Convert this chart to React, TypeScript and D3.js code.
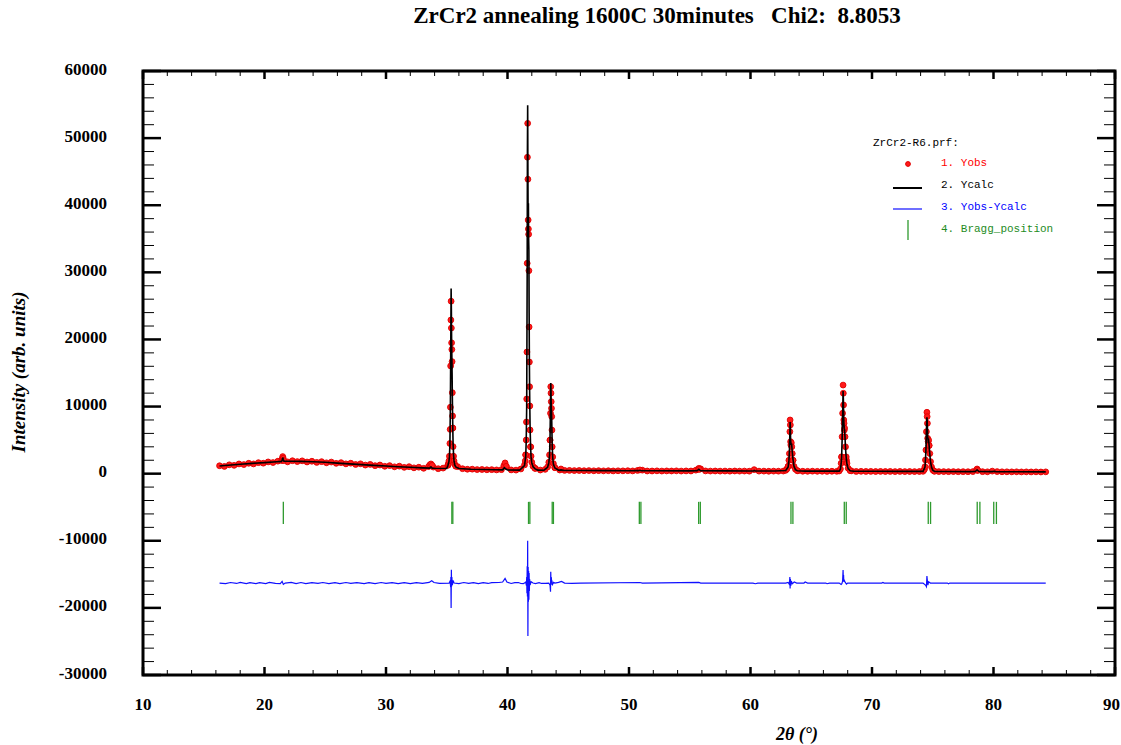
import React from 'react';
import * as d3 from 'd3';

const W = 1121;
const H = 745;

const chartTitle = 'ZrCr2 annealing 1600C 30minutes   Chi2:  8.8053';
const xTickValues = [10, 20, 30, 40, 50, 60, 70, 80, 90];
const yTickValues = [-30000, -20000, -10000, 0, 10000, 20000, 30000, 40000, 50000, 60000];
const legendHeader = 'ZrCr2-R6.prf:';
const legendLabels = ['1. Yobs', '2. Ycalc', '3. Yobs-Ycalc', '4. Bragg_position'];

// Observed scan (FullProf style: start, step, counts)
const obsScanStart = 16.3;
const obsScanStep = 0.4;
const obsScanCounts = [
  1180, 1080, 1320, 1240, 1450, 1360, 1550, 1450, 1640, 1560,
  1750, 1660, 1860, 2300, 1760, 1930, 1800, 1910, 1740, 1850,
  1680, 1790, 1620, 1730, 1540, 1640, 1460, 1560, 1370, 1470,
  1280, 1380, 1190, 1290, 1100, 1200, 1020, 1120, 940, 1040,
  870, 960, 800, 1050, 980, 740, 830, 1250, 6800, 1050,
  740, 660, 670, 610, 620, 580, 600, 560, 600, 1100,
  560, 530, 700, 2800, 4000, 780, 540, 640, 5000, 900,
  540, 490, 490, 460, 470, 440, 460, 430, 450, 420,
  440, 410, 430, 420, 440, 410, 480, 520, 400, 400,
  420, 390, 410, 400, 420, 390, 410, 400, 520, 720,
  410, 390, 400, 380, 390, 370, 400, 380, 390, 370,
  600, 380, 380, 360, 380, 370, 390, 1100, 2000, 420,
  360, 350, 370, 350, 360, 340, 360, 350, 2500, 2000,
  420, 330, 350, 330, 340, 320, 340, 320, 330, 310,
  330, 310, 320, 310, 320, 600, 4200, 400, 310, 310,
  300, 310, 290, 300, 290, 310, 500, 300, 280, 380,
  310, 280, 280, 270, 280, 260, 270, 260, 270, 250,
  270,
];

// Observed points read around the reflections
const obsPeakPoints: [number, number][] = [
  [21.42, 1950], [21.46, 2200], [21.5, 2550], [21.54, 2300], [21.58, 1950],
  [33.6, 1300], [33.7, 1450], [33.8, 1250],
  [35.1, 1300], [35.14, 1500], [35.18, 1900], [35.22, 2600], [35.26, 4500], [35.28, 6600],
  [35.3, 9900], [35.32, 16050], [35.34, 22900], [35.36, 25700], [35.38, 21700], [35.4, 19500],
  [35.42, 18500], [35.44, 16700], [35.46, 12070], [35.48, 8600], [35.5, 6800], [35.52, 4030],
  [35.56, 2600], [35.6, 1900], [35.66, 1400], [35.74, 1100],
  [39.7, 1200], [39.8, 1600], [39.9, 1100],
  [41.4, 1300], [41.46, 1900], [41.5, 2800], [41.54, 5020], [41.56, 7700], [41.58, 11130],
  [41.6, 18130], [41.62, 31350], [41.64, 47150], [41.66, 52200], [41.68, 43870], [41.7, 37800],
  [41.72, 36460], [41.74, 35670], [41.76, 30250], [41.78, 21860], [41.8, 16640], [41.82, 12960],
  [41.84, 10090], [41.86, 6510], [41.9, 4000], [41.94, 2600], [42.0, 1700], [42.1, 1100], [42.25, 800],
  [43.3, 1000], [43.4, 1700], [43.46, 2800], [43.5, 5000], [43.54, 9000], [43.56, 12960],
  [43.58, 12000], [43.6, 10730], [43.62, 9740], [43.64, 8500], [43.66, 6500], [43.68, 4000],
  [43.72, 2500], [43.78, 1500], [43.9, 900],
  [44.4, 700],
  [50.9, 560],
  [55.7, 650], [55.75, 800], [55.8, 650],
  [62.9, 500], [63.0, 700], [63.1, 1100], [63.16, 2000], [63.2, 3000], [63.24, 6260], [63.26, 8000],
  [63.28, 7260], [63.3, 4770], [63.32, 4280], [63.36, 4600], [63.4, 4000], [63.44, 3000],
  [63.5, 2000], [63.58, 1100], [63.7, 650], [63.85, 450],
  [67.3, 400], [67.4, 700], [67.46, 1550], [67.5, 2500], [67.54, 5500], [67.58, 9000],
  [67.62, 13200], [67.64, 11980], [67.66, 10240], [67.68, 8000], [67.7, 7500], [67.72, 6500],
  [67.74, 6800], [67.78, 5500], [67.82, 4000], [67.88, 2500], [67.94, 1550], [68.04, 800], [68.2, 450],
  [74.2, 350], [74.3, 600], [74.36, 1040], [74.4, 2040], [74.44, 3530], [74.48, 6260],
  [74.52, 9150], [74.54, 8500], [74.56, 7500], [74.58, 5270], [74.62, 4770], [74.66, 5000],
  [74.7, 4200], [74.76, 3000], [74.82, 1800], [74.9, 1000], [75.0, 550], [75.15, 350],
  [78.6, 550], [78.65, 700], [78.7, 500],
];

// Calculated profile
const calcPoints: [number, number][] = [
  [16.3, 1150], [17, 1260], [18, 1400], [19, 1530], [20, 1650], [21, 1780],
  [21.4, 1830], [21.46, 2000], [21.5, 2400], [21.54, 2150], [21.6, 1840],
  [22, 1840], [23, 1830], [24, 1770], [25, 1690], [26, 1570], [27, 1460], [28, 1350],
  [29, 1240], [30, 1140], [31, 1040], [32, 950], [33, 870], [33.6, 830], [33.7, 1000],
  [33.8, 830], [34, 810], [35, 770],
  [35.1, 1250], [35.18, 1800], [35.22, 2500], [35.26, 4300], [35.3, 10500], [35.34, 22000],
  [35.36, 27600], [35.38, 24500], [35.4, 20000], [35.42, 17500], [35.44, 15000], [35.46, 11500],
  [35.48, 8800], [35.5, 6500], [35.52, 4600], [35.56, 2800], [35.6, 1900], [35.66, 1300], [35.74, 1000],
  [36, 760], [37, 660], [38, 610], [39, 575], [39.6, 570], [39.75, 900], [39.85, 700], [40, 550], [41, 530],
  [41.4, 1200], [41.5, 2600], [41.54, 4800], [41.58, 10000], [41.62, 30000], [41.64, 48000],
  [41.66, 54900], [41.68, 45000], [41.7, 36000], [41.72, 40300], [41.74, 35000], [41.76, 33300],
  [41.78, 24000], [41.8, 17000], [41.82, 12500], [41.84, 9500], [41.86, 6800], [41.9, 4000],
  [41.94, 2500], [42.0, 1600], [42.1, 1050], [42.25, 750],
  [42.5, 530], [43, 510],
  [43.3, 950], [43.4, 1600], [43.46, 2700], [43.5, 5200], [43.54, 10500], [43.56, 13500],
  [43.58, 12300], [43.6, 10000], [43.62, 9200], [43.64, 8000], [43.66, 6000], [43.68, 4200],
  [43.72, 2400], [43.78, 1400], [43.9, 850],
  [44.2, 510], [44.4, 560], [44.6, 490], [46, 470], [48, 450], [50, 440], [50.8, 450], [50.9, 500],
  [51.0, 440], [52, 430], [55, 420], [55.6, 430], [55.75, 650], [55.9, 430], [58, 410], [60, 400],
  [60.25, 400], [60.3, 480], [60.4, 400], [62, 390],
  [62.9, 480], [63.1, 1000], [63.16, 1900], [63.2, 3100], [63.24, 6000], [63.26, 7700], [63.28, 7000],
  [63.3, 5000], [63.34, 4300], [63.38, 4500], [63.42, 3600], [63.5, 2100], [63.58, 1100], [63.7, 600], [63.85, 430],
  [64.5, 385], [66, 375],
  [67.3, 380], [67.4, 650], [67.46, 1450], [67.5, 2400], [67.54, 5000], [67.58, 8500], [67.62, 12300],
  [67.64, 11300], [67.66, 9500], [67.68, 7800], [67.7, 7000], [67.72, 6700], [67.74, 6600],
  [67.78, 5400], [67.82, 3800], [67.88, 2300], [67.94, 1400], [68.04, 750], [68.2, 420],
  [68.5, 360], [70, 350], [72, 340],
  [74.2, 340], [74.36, 1000], [74.4, 2000], [74.44, 3600], [74.48, 6500], [74.52, 8400], [74.54, 8000],
  [74.56, 7000], [74.58, 5500], [74.62, 4900], [74.66, 5000], [74.7, 4200], [74.76, 2900],
  [74.82, 1700], [74.9, 950], [75.0, 520], [75.15, 330],
  [76, 320], [78, 310], [78.5, 315], [78.65, 560], [78.8, 320], [79.9, 305], [80.05, 360], [80.2, 300],
  [82, 285], [84.3, 270],
];

// Difference curve (Yobs - Ycalc), plotted with an offset
const diffOffset = -16300;
const diffPoints: [number, number][] = [
  [16.3, 0], [16.8, -90], [17.2, 80], [17.7, -60], [18.0, 90], [18.5, -80], [18.8, 70], [19.3, -90],
  [19.6, 60], [20.1, -70], [20.4, 90], [20.9, -60], [21.3, -80], [21.45, 250], [21.55, -200], [21.7, 0],
  [22.2, 90], [22.6, -70], [23.0, 80], [23.4, -90], [23.9, 70], [24.4, -60], [24.8, 80], [25.3, -80],
  [25.8, 60], [26.2, -70], [26.7, 80], [27.1, -60], [27.6, 70], [28.2, -80], [28.6, 60], [29.1, -70],
  [29.6, 80], [30.0, -60], [30.5, 70], [31.0, -80], [31.5, 60], [32.0, -70], [32.5, 60], [33.0, -60],
  [33.55, 100], [33.76, 350], [33.95, 80], [34.4, -60], [35.2, 0], [35.28, 300], [35.32, -600],
  [35.34, 900], [35.36, -3700], [35.38, 2000], [35.4, -500], [35.42, 900], [35.46, -300], [35.52, 400],
  [35.6, 0], [36.0, -70], [36.4, 80], [36.8, -60], [37.2, 70], [37.6, -80], [38.0, 60], [38.4, -60],
  [38.7, 70], [39.3, 80], [39.6, 150], [39.8, 700], [39.95, 150], [40.3, -60], [40.6, 70],
  [40.9, 80], [41.1, -70], [41.3, -80],
  [41.4, 0], [41.5, 150], [41.56, -400], [41.58, 900], [41.6, -1500], [41.62, 2500], [41.64, -2000],
  [41.66, 6300], [41.68, -7900], [41.7, 2400], [41.72, -2800], [41.74, 1800], [41.76, -2500],
  [41.78, 1500], [41.8, -1200], [41.82, 600], [41.86, -300], [41.94, 200], [42.1, 0],
  [42.3, -70], [42.6, 60], [42.8, -60], [43.1, -50], [43.4, 0], [43.5, -300], [43.54, -1300], [43.56, 1700],
  [43.58, -300], [43.6, 900], [43.62, 500], [43.66, 300], [43.7, -200], [43.8, 100], [43.9, 0],
  [44.2, 100], [44.45, 250], [44.7, 0], [45.3, -50], [46, 0], [50.9, 80], [51.1, 0], [55.75, 100],
  [55.9, 0], [60.2, 0], [60.4, -100], [60.6, 0],
  [62.9, 0], [63.1, 100], [63.2, -200], [63.24, 900], [63.26, -800], [63.28, 600], [63.32, -400],
  [63.36, 300], [63.44, -100], [63.6, 150], [63.8, 0], [64.4, 0], [64.5, 150], [64.7, 0], [66.2, 0],
  [66.3, -100], [66.5, 0],
  [67.3, 0], [67.46, -200], [67.52, -100], [67.58, 300], [67.62, 1950], [67.64, 600], [67.66, 1200],
  [67.68, 200], [67.72, 400], [67.8, 100], [67.9, -150], [68.0, 0], [70.8, 0], [70.9, 100], [71.0, 0],
  [74.2, 0], [74.4, -300], [74.48, -550], [74.52, 1050], [74.56, 300], [74.6, -300], [74.66, 200],
  [74.74, 100], [74.8, 0], [76.2, 0], [76.3, -100], [76.4, 0], [84.3, 0],
];

// Bragg reflection positions (Kα1 / Kα2)
const braggPositions = [
  21.55, 35.42, 35.5, 41.73, 41.84, 43.68, 43.78, 50.85, 50.98, 55.73, 55.87,
  63.33, 63.49, 67.72, 67.88, 74.63, 74.82, 78.66, 78.88, 80.02, 80.24,
];
const braggTickTop = -4200;
const braggTickBottom = -7500;

const SERIF = '"Liberation Serif", "Times New Roman", serif';
const MONO = '"Liberation Mono", "Courier New", monospace';
const GREEN = '#2e9a2e';

export default function App() {
  const x = d3.scaleLinear().domain([10, 90]).range([143, 1115]);
  const y = d3.scaleLinear().domain([-30000, 60000]).range([675, 71]);
  const [x0, x1] = x.range();
  const [yb, yt] = y.range();

  const obsScan: [number, number][] = obsScanCounts.map((c, i) => [obsScanStart + i * obsScanStep, c]);
  const obsAll = [...obsScan, ...obsPeakPoints];

  const calcSorted = [...calcPoints].sort((a, b) => a[0] - b[0]);
  const diffSorted = [...diffPoints].sort((a, b) => a[0] - b[0]);

  const calcLine = d3.line<[number, number]>().x((d) => x(d[0])).y((d) => y(d[1]))(calcSorted) || '';
  const diffLine = d3.line<[number, number]>().x((d) => x(d[0])).y((d) => y(d[1] + diffOffset))(diffSorted) || '';

  const xMinor = d3.range(12, 90, 2).filter((v) => v % 10 !== 0);
  const yMinor = d3.range(-28000, 60000, 2000).filter((v) => v % 10000 !== 0);

  const legendY = [165, 187, 209, 231];

  return (
    <svg width={W} height={H} style={{ position: 'absolute', left: 0, top: 0, background: '#fff' }}>
      <rect x={0} y={0} width={W} height={H} fill="#fff" />
      <text x={657} y={23} textAnchor="middle" fontFamily={SERIF} fontWeight="bold" fontSize={23}
        style={{ whiteSpace: 'pre' }}>{chartTitle}</text>

      {/* observed */}
      <g>
        {obsAll.map((d, i) => (
          <circle key={i} cx={x(d[0])} cy={y(d[1])} r={2.9} fill="#ff1a1a" stroke="#e00000" strokeWidth={0.9} />
        ))}
      </g>
      {/* calculated */}
      <path d={calcLine} fill="none" stroke="#000" strokeWidth={1.6} />
      {/* difference */}
      <path d={diffLine} fill="none" stroke="#1010ff" strokeWidth={1.2} />
      {/* bragg ticks */}
      {braggPositions.map((b, i) => (
        <line key={i} x1={x(b)} x2={x(b)} y1={y(braggTickTop)} y2={y(braggTickBottom)} stroke={GREEN} strokeWidth={1.3} />
      ))}

      {/* frame */}
      <rect x={x0} y={yt} width={x1 - x0} height={yb - yt} fill="none" stroke="#000" strokeWidth={3} />
      {xTickValues.map((v, i) => (
        <g key={'xt' + v}>
          <line x1={x(v)} x2={x(v)} y1={yb} y2={yb - 8} stroke="#000" strokeWidth={2.5} />
          <line x1={x(v)} x2={x(v)} y1={yt} y2={yt + 8} stroke="#000" strokeWidth={2.5} />
          <text x={i === xTickValues.length - 1 ? W - 1 : x(v)} y={710}
            textAnchor={i === xTickValues.length - 1 ? 'end' : 'middle'}
            fontFamily={SERIF} fontWeight="bold" fontSize={17}>{v}</text>
        </g>
      ))}
      {xMinor.map((v) => (
        <g key={'xm' + v}>
          <line x1={x(v)} x2={x(v)} y1={yb} y2={yb - 5} stroke="#000" strokeWidth={1} />
          <line x1={x(v)} x2={x(v)} y1={yt} y2={yt + 5} stroke="#000" strokeWidth={1} />
        </g>
      ))}
      {yTickValues.map((v) => (
        <g key={'yt' + v}>
          <line x1={x0} x2={x0 + 18} y1={y(v)} y2={y(v)} stroke="#000" strokeWidth={2.5} />
          <line x1={x1} x2={x1 - 18} y1={y(v)} y2={y(v)} stroke="#000" strokeWidth={2.5} />
          <text x={107} y={y(v) + 3.5} textAnchor="end" fontFamily={SERIF} fontWeight="bold" fontSize={17}>{v}</text>
        </g>
      ))}
      {yMinor.map((v) => (
        <g key={'ym' + v}>
          <line x1={x0} x2={x0 + 11} y1={y(v)} y2={y(v)} stroke="#000" strokeWidth={1} />
          <line x1={x1} x2={x1 - 11} y1={y(v)} y2={y(v)} stroke="#000" strokeWidth={1} />
        </g>
      ))}

      {/* axis titles */}
      <text x={797} y={740} textAnchor="middle" fontFamily={SERIF} fontWeight="bold" fontStyle="italic" fontSize={18}>2θ (°)</text>
      <text transform="translate(25,372) rotate(-90)" textAnchor="middle" fontFamily={SERIF} fontWeight="bold" fontStyle="italic" fontSize={19}>Intensity (arb. units)</text>

      {/* legend */}
      <g fontFamily={MONO} fontSize={11}>
        <text x={873} y={146} fill="#000">{legendHeader}</text>
        <circle cx={908} cy={legendY[0] - 1} r={2.4} fill="#ff1a1a" stroke="#e00000" />
        <text x={941} y={legendY[0] + 1} fill="#ff0000">{legendLabels[0]}</text>
        <line x1={893} x2={922} y1={legendY[1] + 1} y2={legendY[1] + 1} stroke="#000" strokeWidth={2} />
        <text x={941} y={legendY[1] + 1} fill="#000">{legendLabels[1]}</text>
        <line x1={893} x2={922} y1={legendY[2]} y2={legendY[2]} stroke="#1010ff" strokeWidth={1.2} />
        <text x={941} y={legendY[2] + 1} fill="#0000ff">{legendLabels[2]}</text>
        <line x1={908} x2={908} y1={legendY[3] - 11} y2={legendY[3] + 9} stroke={GREEN} strokeWidth={1.3} />
        <text x={941} y={legendY[3] + 1} fill="#1e8c1e">{legendLabels[3]}</text>
      </g>
    </svg>
  );
}
